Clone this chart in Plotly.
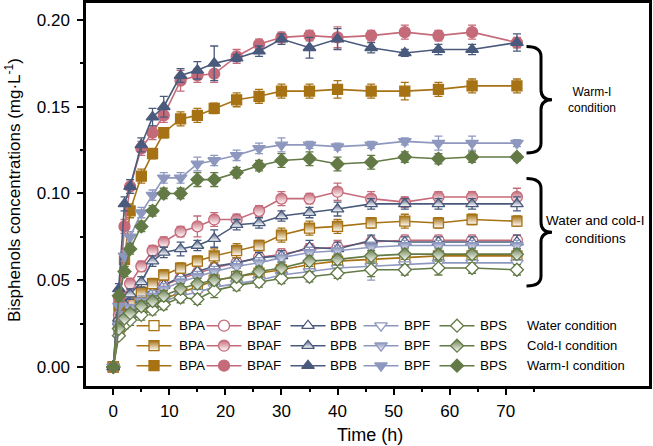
import plotly.graph_objects as go

# ---------------- data ----------------
time_h = [0, 1, 2, 3, 5, 7, 9, 12, 15, 18, 22, 26, 30, 35, 40, 46, 52, 58, 64, 72]
compounds = ["BPA", "BPAF", "BPB", "BPF", "BPS"]
condition_labels = ["Water condition", "Cold-I condition", "Warm-I condition"]
group_labels = ["Warm-I<br>condition", "Water and cold-I<br>conditions"]

# Water condition
water_bpa = [0, 0.022, 0.027, 0.030, 0.033, 0.036, 0.039, 0.043, 0.046, 0.050, 0.052, 0.054, 0.056, 0.059, 0.061, 0.062, 0.063, 0.064, 0.064, 0.064]
water_bpaf = [0, 0.027, 0.033, 0.038, 0.041, 0.044, 0.047, 0.051, 0.054, 0.057, 0.060, 0.063, 0.065, 0.068, 0.069, 0.072, 0.073, 0.073, 0.073, 0.073]
water_bpb = [0, 0.026, 0.031, 0.035, 0.039, 0.043, 0.047, 0.052, 0.055, 0.058, 0.060, 0.063, 0.064, 0.069, 0.068, 0.073, 0.072, 0.072, 0.072, 0.072]
water_bpf = [0, 0.021, 0.026, 0.029, 0.032, 0.035, 0.038, 0.041, 0.043, 0.046, 0.048, 0.050, 0.053, 0.055, 0.057, 0.058, 0.059, 0.060, 0.060, 0.060]
water_bps = [0, 0.018, 0.024, 0.027, 0.030, 0.033, 0.036, 0.040, 0.039, 0.044, 0.047, 0.049, 0.051, 0.052, 0.054, 0.056, 0.056, 0.057, 0.057, 0.056]

err_water_bpa = [0, 0.002, 0.002, 0.003, 0.003, 0.003, 0.003, 0.003, 0.003, 0.003, 0.003, 0.003, 0.003, 0.003, 0.003, 0.003, 0.003, 0.003, 0.003, 0.003]
err_water_bpaf = [0, 0.002, 0.003, 0.003, 0.003, 0.003, 0.003, 0.003, 0.003, 0.003, 0.003, 0.003, 0.003, 0.003, 0.004, 0.003, 0.003, 0.003, 0.003, 0.003]
err_water_bpb = [0, 0.002, 0.003, 0.003, 0.003, 0.003, 0.003, 0.003, 0.003, 0.004, 0.003, 0.003, 0.003, 0.004, 0.004, 0.003, 0.003, 0.003, 0.003, 0.004]
err_water_bpf = [0, 0.002, 0.002, 0.003, 0.003, 0.003, 0.003, 0.003, 0.003, 0.003, 0.003, 0.003, 0.004, 0.004, 0.004, 0.008, 0.004, 0.004, 0.004, 0.004]
err_water_bps = [0, 0.002, 0.002, 0.003, 0.003, 0.003, 0.003, 0.003, 0.003, 0.004, 0.003, 0.003, 0.003, 0.003, 0.003, 0.004, 0.003, 0.004, 0.003, 0.003]

# Cold-I condition
cold_bpa = [0, 0.025, 0.032, 0.038, 0.043, 0.048, 0.053, 0.057, 0.061, 0.064, 0.067, 0.070, 0.076, 0.080, 0.081, 0.083, 0.084, 0.083, 0.085, 0.084]
cold_bpaf = [0, 0.030, 0.040, 0.048, 0.058, 0.067, 0.072, 0.078, 0.081, 0.085, 0.085, 0.090, 0.097, 0.097, 0.101, 0.097, 0.095, 0.098, 0.098, 0.098]
cold_bpb = [0, 0.028, 0.036, 0.042, 0.049, 0.061, 0.066, 0.068, 0.070, 0.074, 0.082, 0.083, 0.087, 0.089, 0.091, 0.094, 0.094, 0.094, 0.094, 0.094]
cold_bpf = [0, 0.024, 0.030, 0.034, 0.038, 0.041, 0.045, 0.049, 0.052, 0.055, 0.058, 0.060, 0.063, 0.066, 0.067, 0.069, 0.070, 0.070, 0.070, 0.070]
cold_bps = [0, 0.022, 0.028, 0.031, 0.035, 0.038, 0.041, 0.045, 0.048, 0.050, 0.052, 0.055, 0.057, 0.061, 0.062, 0.064, 0.065, 0.065, 0.065, 0.065]

err_cold_bpa = [0, 0.002, 0.002, 0.003, 0.003, 0.003, 0.003, 0.003, 0.003, 0.004, 0.004, 0.003, 0.004, 0.004, 0.004, 0.003, 0.004, 0.003, 0.003, 0.003]
err_cold_bpaf = [0, 0.002, 0.003, 0.003, 0.003, 0.003, 0.003, 0.003, 0.006, 0.004, 0.003, 0.003, 0.004, 0.003, 0.005, 0.004, 0.003, 0.003, 0.003, 0.005]
err_cold_bpb = [0, 0.002, 0.003, 0.003, 0.003, 0.003, 0.003, 0.004, 0.003, 0.005, 0.003, 0.003, 0.003, 0.003, 0.004, 0.003, 0.003, 0.003, 0.003, 0.004]
err_cold_bpf = [0, 0.002, 0.002, 0.002, 0.003, 0.003, 0.003, 0.003, 0.003, 0.003, 0.003, 0.003, 0.003, 0.003, 0.003, 0.003, 0.003, 0.003, 0.003, 0.003]
err_cold_bps = [0, 0.002, 0.002, 0.002, 0.003, 0.003, 0.003, 0.003, 0.003, 0.003, 0.003, 0.003, 0.003, 0.003, 0.003, 0.003, 0.003, 0.003, 0.003, 0.003]

# Warm-I condition
warm_bpa = [0, 0.035, 0.062, 0.090, 0.110, 0.123, 0.135, 0.143, 0.145, 0.149, 0.154, 0.156, 0.159, 0.159, 0.160, 0.159, 0.159, 0.160, 0.162, 0.162]
warm_bpaf = [0, 0.040, 0.081, 0.104, 0.126, 0.135, 0.145, 0.165, 0.168, 0.169, 0.179, 0.186, 0.190, 0.191, 0.190, 0.191, 0.193, 0.191, 0.193, 0.187]
warm_bpb = [0, 0.045, 0.094, 0.104, 0.128, 0.144, 0.150, 0.168, 0.171, 0.175, 0.178, 0.182, 0.189, 0.184, 0.189, 0.184, 0.181, 0.183, 0.183, 0.187]
warm_bpf = [0, 0.035, 0.064, 0.075, 0.089, 0.099, 0.109, 0.109, 0.117, 0.119, 0.122, 0.126, 0.128, 0.128, 0.127, 0.128, 0.130, 0.129, 0.129, 0.129]
warm_bps = [0, 0.041, 0.055, 0.068, 0.081, 0.090, 0.100, 0.100, 0.108, 0.108, 0.112, 0.116, 0.119, 0.120, 0.117, 0.118, 0.121, 0.120, 0.121, 0.121]

err_warm_bpa = [0, 0.003, 0.004, 0.004, 0.004, 0.003, 0.003, 0.004, 0.004, 0.003, 0.004, 0.004, 0.004, 0.004, 0.005, 0.004, 0.005, 0.004, 0.004, 0.004]
err_warm_bpaf = [0, 0.003, 0.004, 0.004, 0.004, 0.004, 0.004, 0.006, 0.004, 0.005, 0.004, 0.003, 0.003, 0.003, 0.006, 0.003, 0.004, 0.003, 0.004, 0.003]
err_warm_bpb = [0, 0.003, 0.004, 0.004, 0.004, 0.005, 0.006, 0.004, 0.005, 0.010, 0.002, 0.003, 0.003, 0.006, 0.006, 0.003, 0.002, 0.003, 0.003, 0.005]
err_warm_bpf = [0, 0.003, 0.003, 0.003, 0.003, 0.003, 0.003, 0.003, 0.004, 0.003, 0.003, 0.003, 0.004, 0.002, 0.002, 0.002, 0.002, 0.004, 0.004, 0.002]
err_warm_bps = [0, 0.003, 0.003, 0.003, 0.003, 0.003, 0.003, 0.003, 0.004, 0.004, 0.003, 0.003, 0.004, 0.004, 0.004, 0.004, 0.003, 0.003, 0.003, 0.002]

x_tick_vals = [0, 10, 20, 30, 40, 50, 60, 70]
y_tick_vals = [0.0, 0.05, 0.10, 0.15, 0.20]

# ---------------- styles ----------------
FONT = "Liberation Sans, Arial, sans-serif"
colors = {"BPA": "#A67214", "BPAF": "#C56A79", "BPB": "#4A5A7C", "BPF": "#8E98BF", "BPS": "#637A46"}
symbols = {"BPA": "square", "BPAF": "circle", "BPB": "triangle-up", "BPF": "triangle-down", "BPS": "diamond"}
sizes = {"BPA": 10, "BPAF": 11, "BPB": 11, "BPF": 11, "BPS": 10}

series = {
    "water": {"BPA": (water_bpa, err_water_bpa), "BPAF": (water_bpaf, err_water_bpaf),
              "BPB": (water_bpb, err_water_bpb), "BPF": (water_bpf, err_water_bpf),
              "BPS": (water_bps, err_water_bps)},
    "cold": {"BPA": (cold_bpa, err_cold_bpa), "BPAF": (cold_bpaf, err_cold_bpaf),
             "BPB": (cold_bpb, err_cold_bpb), "BPF": (cold_bpf, err_cold_bpf),
             "BPS": (cold_bps, err_cold_bps)},
    "warm": {"BPA": (warm_bpa, err_warm_bpa), "BPAF": (warm_bpaf, err_warm_bpaf),
             "BPB": (warm_bpb, err_warm_bpb), "BPF": (warm_bpf, err_warm_bpf),
             "BPS": (warm_bps, err_warm_bps)},
}


def marker_style(cond, comp):
    c = colors[comp]
    base = dict(symbol=symbols[comp], size=sizes[comp], line=dict(color=c, width=1.3))
    if cond == "water":
        base["color"] = "white"
    elif cond == "cold":
        base["color"] = c
        base["gradient"] = dict(type="vertical", color="white")
    else:
        base["color"] = c
    return base


fig = go.Figure()

for cond in ["water", "cold", "warm"]:
    for comp in compounds:
        vals, err = series[cond][comp]
        c = colors[comp]
        fig.add_trace(go.Scatter(
            x=time_h, y=vals, mode="lines+markers",
            line=dict(color=c, width=1.6),
            marker=marker_style(cond, comp),
            error_y=dict(type="data", array=err, visible=True, color=c, thickness=1.3, width=4),
            showlegend=False, name=f"{comp} ({cond})",
        ))

# ---------------- pixel geometry ----------------
L, R, T, B = 86, 649, 3, 386
W, H = 653, 446


def px(xp, yp):
    return (xp - L) / (R - L), (B - yp) / (B - T)


# ---------------- manual legend (overlay axes in pixel units) ----------------
row_y = {"water": 325.7, "cold": 345.7, "warm": 365.7}
glyph_cx = [154, 224, 308, 381, 457]
text_x = [177, 245, 328, 402, 478]
cond_text_x = 525
half = 17.5

for ci, cond in enumerate(["water", "cold", "warm"]):
    ry = row_y[cond]
    for k, comp in enumerate(compounds):
        c = colors[comp]
        cx = glyph_cx[k]
        fig.add_trace(go.Scatter(
            x=[cx - half, cx + half], y=[ry, ry], mode="lines", xaxis="x2", yaxis="y2",
            line=dict(color=c, width=1.6), showlegend=False, hoverinfo="skip"))
        fig.add_trace(go.Scatter(
            x=[cx], y=[ry], mode="markers", xaxis="x2", yaxis="y2",
            marker=marker_style(cond, comp), showlegend=False, hoverinfo="skip"))
        ax_, ay_ = px(text_x[k], ry)
        fig.add_annotation(x=ax_, y=ay_, xref="paper", yref="paper", text=comp,
                           showarrow=False, xanchor="left", yanchor="middle",
                           font=dict(family=FONT, size=13.5, color="black"))
    ax_, ay_ = px(cond_text_x, ry)
    fig.add_annotation(x=ax_, y=ay_, xref="paper", yref="paper", text=condition_labels[ci],
                       showarrow=False, xanchor="left", yanchor="middle",
                       font=dict(family=FONT, size=13, color="black"))


# ---------------- braces ----------------
def brace_path(top, bot, xe, xb, xt, r=10):
    mid = (top + bot) / 2
    return (f"M {xe},{top} Q {xb},{top} {xb},{top + r} "
            f"L {xb},{mid - r} Q {xb},{mid} {xt},{mid} "
            f"Q {xb},{mid} {xb},{mid + r} "
            f"L {xb},{bot - r} Q {xb},{bot} {xe},{bot}")


for (top, bot) in [(46.5, 153), (178.5, 286)]:
    fig.add_shape(type="path", xref="x2", yref="y2",
                  path=brace_path(top, bot, 526.5, 541, 552),
                  line=dict(color="black", width=3))

gx, gy = px(592, 100)
fig.add_annotation(x=gx, y=gy, xref="paper", yref="paper", text=group_labels[0],
                   showarrow=False, xanchor="center", yanchor="middle", align="center",
                   font=dict(family=FONT, size=12, color="black"))
gx, gy = px(595, 229.5)
fig.add_annotation(x=gx, y=gy, xref="paper", yref="paper", text=group_labels[1],
                   showarrow=False, xanchor="center", yanchor="middle", align="center",
                   font=dict(family=FONT, size=13.5, color="black"))

# axis titles
tx, ty = px(370, 435)
fig.add_annotation(x=tx, y=ty, xref="paper", yref="paper", text="Time (h)",
                   showarrow=False, xanchor="center", yanchor="middle",
                   font=dict(family=FONT, size=18, color="black"))
tx, ty = px(13, 190)
fig.add_annotation(x=tx, y=ty, xref="paper", yref="paper",
                   text="Bisphenols concentrations (mg·L<sup>-1</sup>)",
                   showarrow=False, textangle=-90, xanchor="center", yanchor="middle",
                   font=dict(family=FONT, size=17, color="black"))

# ---------------- axes ----------------
x_range = [-4.87, 95.56]
y_range = [-0.011, 0.2098]

fig.update_layout(
    width=W, height=H,
    margin=dict(l=L, r=W - R, t=T, b=H - B, pad=0),
    paper_bgcolor="white", plot_bgcolor="rgba(0,0,0,0)",
    showlegend=False,
    font=dict(family=FONT, color="black"),
    xaxis=dict(range=x_range, tickvals=x_tick_vals, ticktext=[str(v) for v in x_tick_vals],
               ticks="outside", ticklen=6, tickwidth=1.5, tickcolor="black",
               showline=True, linewidth=2.5, linecolor="black", mirror=True,
               showgrid=False, zeroline=False, automargin=False,
               tickfont=dict(family=FONT, size=17, color="black"), ticklabelstandoff=2,
               minor=dict(tickvals=[5, 15, 25, 35, 45, 55, 65, 75], ticks="outside",
                          ticklen=3.5, tickwidth=1.5, tickcolor="black", showgrid=False)),
    yaxis=dict(range=y_range, tickvals=y_tick_vals, tickformat=".2f",
               ticks="outside", ticklen=6, tickwidth=1.5, tickcolor="black",
               showline=True, linewidth=2.5, linecolor="black", mirror=True,
               showgrid=False, zeroline=False, automargin=False,
               tickfont=dict(family=FONT, size=17, color="black"), ticklabelstandoff=4,
               minor=dict(tickvals=[0.025, 0.075, 0.125, 0.175], ticks="outside",
                          ticklen=3.5, tickwidth=1.5, tickcolor="black", showgrid=False)),
    xaxis2=dict(range=[L, R], overlaying="x", anchor="y2", visible=False, fixedrange=True),
    yaxis2=dict(range=[B, T], overlaying="y", anchor="x2", visible=False, fixedrange=True),
)

fig.write_html("out.html", config={"displayModeBar": False},
               post_script="document.body.style.margin='0px';document.body.style.padding='0px';")
